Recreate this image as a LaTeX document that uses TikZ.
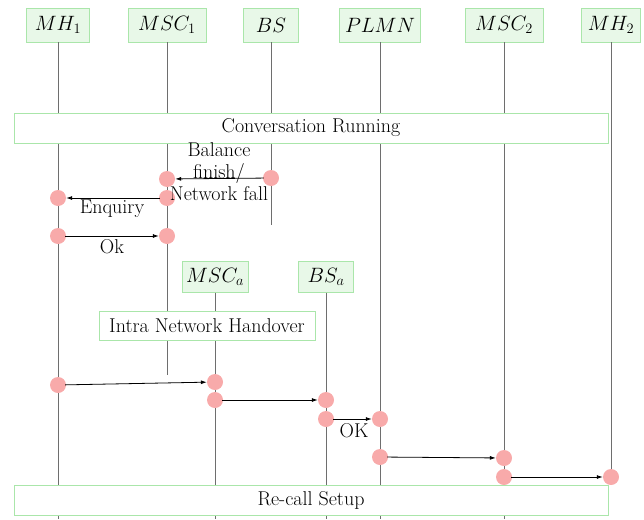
\documentclass[tikz,border=0pt]{standalone}
\usetikzlibrary{arrows.meta}
\definecolor{boxgreen}{RGB}{170,230,170}
\definecolor{boxfill}{RGB}{232,248,232}
\definecolor{dotpink}{RGB}{248,170,170}
\definecolor{lifegray}{RGB}{110,110,110}
\begin{document}
\begin{tikzpicture}[x=1pt,y=-1pt,
 hdr/.style={draw=boxgreen, fill=boxfill, minimum height=34pt, inner xsep=4pt, font=\fontsize{20}{24}\selectfont},
 bar/.style={draw=boxgreen, fill=white, minimum height=30pt, inner sep=2pt, font=\fontsize{20}{22}\selectfont},
 life/.style={draw=lifegray, line width=0.8pt},
 dot/.style={circle, fill=dotpink, minimum size=16pt, inner sep=0pt},
 msg/.style={-{Latex[length=6pt,width=4pt]}, line width=0.8pt, shorten <=-1pt},
 lbl/.style={font=\fontsize{20}{22}\selectfont, inner sep=1pt}]
\useasboundingbox (0,0) rectangle (644,519);
% headers
\node[hdr, minimum width=63pt] (mh1) at (58,25) {$MH_1$};
\node[hdr, minimum width=78pt] (msc1) at (167,25) {$MSC_1$};
\node[hdr, minimum width=55pt] (bs) at (271,25) {$BS$};
\node[hdr, minimum width=81pt] (plmn) at (380,25) {$PLMN$};
\node[hdr, minimum width=78pt] (msc2) at (504,25) {$MSC_2$};
\node[hdr, minimum width=59pt] (mh2) at (611,25) {$MH_2$};
\node[hdr, minimum width=65pt, minimum height=31pt] (msca) at (215,277) {$MSC_a$};
\node[hdr, minimum width=55pt, minimum height=31pt] (bsa) at (326,277) {$BS_a$};
% lifeline ends
\coordinate (e1) at (58,519);
\coordinate (e2) at (167,375);
\coordinate (e3) at (271,225);
\coordinate (e4) at (380,519);
\coordinate (e5) at (504,519);
\coordinate (e6) at (611,484);
\coordinate (e7) at (215,519);
\coordinate (e8) at (326,519);
\draw[life] (mh1.south) -- (e1);
\draw[life] (msc1.south) -- (e2);
\draw[life] (bs.south) -- (e3);
\draw[life] (plmn.south) -- (e4);
\draw[life] (msc2.south) -- (e5);
\draw[life] (mh2.south) -- (e6);
\draw[life] (msca.south) -- (e7);
\draw[life] (bsa.south) -- (e8);
% bars
\node[bar, minimum width=594pt] (conv) at (311,128) {Conversation Running};
\node[bar, minimum width=216pt, minimum height=29pt] (intra) at (207,326) {Intra Network Handover};
\node[bar, minimum width=594pt] (recall) at (311,500) {Re-call Setup};
% dots
\node[dot] (d1) at (271,178) {};
\node[dot] (d2) at (167,179) {};
\node[dot] (d3) at (167,198) {};
\node[dot] (d4) at (58,198) {};
\node[dot] (d5) at (58,236) {};
\node[dot] (d6) at (167,236) {};
\node[dot] (d7) at (58,385) {};
\node[dot] (d8) at (215,382) {};
\node[dot] (d9) at (215,400) {};
\node[dot] (d10) at (326,400) {};
\node[dot] (d11) at (326,419) {};
\node[dot] (d12) at (380,419) {};
\node[dot] (d13) at (380,457) {};
\node[dot] (d14) at (504,458) {};
\node[dot] (d15) at (504,477) {};
\node[dot] (d16) at (611,477) {};
% messages
\draw[msg] (d1) -- (d2);
\draw[msg] (d3) -- (d4);
\draw[msg] (d5) -- (d6);
\draw[msg] (d7) -- (d8);
\draw[msg] (d9) -- (d10);
\draw[msg] (d11) -- (d12);
\draw[msg] (d13) -- (d14);
\draw[msg] (d15) -- (d16);
% labels
\node[lbl, align=center] (l1) at (219,172) {Balance\\finish/\\Network fall};
\node[lbl] (l2) at (112,209) {Enquiry};
\node[lbl] (l3) at (112,247) {Ok};
\node[lbl] (l4) at (354,431) {OK};
\end{tikzpicture}
\end{document}
